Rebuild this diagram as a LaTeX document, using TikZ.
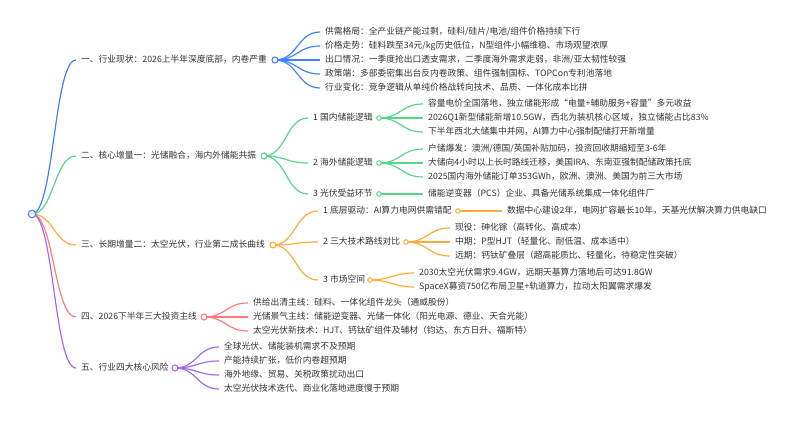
\documentclass[tikz,border=0pt]{standalone}
\usepackage{fontspec}
\setmainfont{Noto Sans CJK SC}
\usetikzlibrary{calc}

\definecolor{ink}{HTML}{333333}
\definecolor{mmblue}{HTML}{4080FF}
\definecolor{mmgreen}{HTML}{55D68A}
\definecolor{mmorange}{HTML}{FFAA3B}
\definecolor{mmred}{HTML}{FF7A7A}
\definecolor{mmpurple}{HTML}{A36CF0}

\pgfdeclarelayer{bg}
\pgfsetlayers{bg,main}

% enlace curvo entre dos nodos
\newcommand{\mmlink}[3]{%
  \path (#2) -- coordinate[pos=.5] (mid) (#3);
  \draw[link=#1] (#2) .. controls (mid |- #2) and (mid |- #3) .. (#3);}

\begin{document}
\begin{tikzpicture}[x=1pt, y=-1pt,
    txt/.style={anchor=west, inner xsep=5pt, inner ysep=0pt, text height=7pt, text depth=2pt, text=ink, font=\fontsize{8.75}{10.5}\selectfont},
    dot/.style={circle, draw=#1, fill=white, line width=1.1pt, inner sep=0pt, minimum size=6pt},
    dotsm/.style={dot=#1, line width=1pt, minimum size=4.6pt},
    link/.style={draw=#1, line width=1.2pt}]
    \useasboundingbox (0,0) rectangle (800,422);

    % Raíz
    \node[dot=mmblue, minimum size=7.5pt] (r) at (32,214) {};

    % 一、行业现状
    \node[txt] (a) at (76,60) {一、行业现状：2026上半年深度底部，内卷严重};
    \node[dot=mmblue] (ca) at (275,60) {};
    \node[txt] (a1) at (320,32) {供需格局：全产业链产能过剩，硅料/硅片/电池/组件价格持续下行};
    \node[txt] (a2) at (320,46) {价格走势：硅料跌至34元/kg历史低位，N型组件小幅维稳、市场观望浓厚};
    \node[txt] (a3) at (320,60) {出口情况：一季度抢出口透支需求，二季度海外需求走弱，非洲/亚太韧性较强};
    \node[txt] (a4) at (320,74) {政策端：多部委密集出台反内卷政策、组件强制国标、TOPCon专利池落地};
    \node[txt] (a5) at (320,88) {行业变化：竞争逻辑从单纯价格战转向技术、品质、一体化成本比拼};

    % 二、核心增量一
    \node[txt] (b) at (76,156) {二、核心增量一：光储融合，海内外储能共振};
    \node[dot=mmgreen] (cb) at (264,156) {};
    \node[txt] (b1) at (308,118) {1 国内储能逻辑};
    \node[txt] (b2) at (308,163) {2 海外储能逻辑};
    \node[txt] (b3) at (308,194) {3 光伏受益环节};
    \node[dotsm=mmgreen] (cb1) at (379,118) {};
    \node[dotsm=mmgreen] (cb2) at (379,163) {};
    \node[dotsm=mmgreen] (cb3) at (379,194) {};
    \node[txt] (b11) at (423,104) {容量电价全国落地，独立储能形成“电量+辅助服务+容量”多元收益};
    \node[txt] (b12) at (423,118) {2026Q1新型储能新增10.5GW，西北为装机核心区域，独立储能占比83\%};
    \node[txt] (b13) at (423,132) {下半年西北大储集中并网，AI算力中心强制配储打开新增量};
    \node[txt] (b21) at (423,149) {户储爆发：澳洲/德国/英国补贴加码，投资回收期缩短至3-6年};
    \node[txt] (b22) at (423,163) {大储向4小时以上长时路线迁移，美国IRA、东南亚强制配储政策托底};
    \node[txt] (b23) at (423,177) {2025国内海外储能订单353GWh，欧洲、澳洲、美国为前三大市场};
    \node[txt] (b31) at (423,194) {储能逆变器（PCS）企业、具备光储系统集成一体化组件厂};

    % 三、长期增量二
    \node[txt] (c) at (76,245) {三、长期增量二：太空光伏，行业第二成长曲线};
    \node[dot=mmorange] (cc) at (273,245) {};
    \node[txt] (c1) at (318,211) {1 底层驱动：AI算力电网供需错配};
    \node[txt] (c2) at (318,242) {2 三大技术路线对比};
    \node[txt] (c3) at (318,280) {3 市场空间};
    \node[dotsm=mmorange] (cc1) at (458,211) {};
    \node[dotsm=mmorange] (cc2) at (406,242) {};
    \node[dotsm=mmorange] (cc3) at (370,280) {};
    \node[txt] (c11) at (502,211) {数据中心建设2年，电网扩容最长10年，天基光伏解决算力供电缺口};
    \node[txt] (c21) at (450,228) {现役：砷化镓（高转化、高成本）};
    \node[txt] (c22) at (450,242) {中期：P型HJT（轻量化、耐低温、成本适中）};
    \node[txt] (c23) at (450,256) {远期：钙钛矿叠层（超高能质比、轻量化，待稳定性突破）};
    \node[txt] (c31) at (414,273) {2030太空光伏需求9.4GW，远期天基算力落地后可达91.8GW};
    \node[txt] (c32) at (414,287) {SpaceX募资750亿布局卫星+轨道算力，拉动太阳翼需求爆发};

    % 四、投资主线
    \node[txt] (d) at (76,317) {四、2026下半年三大投资主线};
    \node[dot=mmred] (cd) at (204,317) {};
    \node[txt] (d1) at (248,303) {供给出清主线：硅料、一体化组件龙头（通威股份）};
    \node[txt] (d2) at (248,317) {光储景气主线：储能逆变器、光储一体化（阳光电源、德业、天合光能）};
    \node[txt] (d3) at (248,331) {太空光伏新技术：HJT、钙钛矿组件及辅材（钧达、东方日升、福斯特）};

    % 五、核心风险
    \node[txt] (e) at (76,368) {五、行业四大核心风险};
    \node[dot=mmpurple] (ce) at (175,368) {};
    \node[txt] (e1) at (219,347) {全球光伏、储能装机需求不及预期};
    \node[txt] (e2) at (219,361) {产能持续扩张，低价内卷超预期};
    \node[txt] (e3) at (219,375) {海外地缘、贸易、关税政策扰动出口};
    \node[txt] (e4) at (219,389) {太空光伏技术迭代、商业化落地进度慢于预期};

    % Enlaces (detrás de los círculos)
    \begin{pgfonlayer}{bg}
        \mmlink{mmblue}{r.center}{a.west}
        \mmlink{mmgreen}{r.center}{b.west}
        \mmlink{mmorange}{r.center}{c.west}
        \mmlink{mmred}{r.center}{d.west}
        \mmlink{mmpurple}{r.center}{e.west}
        \foreach \k in {1,...,5} {\mmlink{mmblue}{ca.center}{a\k.west}}
        \foreach \k in {1,2,3} {\mmlink{mmgreen}{cb.center}{b\k.west}}
        \foreach \k in {1,2,3} {\mmlink{mmgreen}{cb1.center}{b1\k.west}}
        \foreach \k in {1,2,3} {\mmlink{mmgreen}{cb2.center}{b2\k.west}}
        \mmlink{mmgreen}{cb3.center}{b31.west}
        \foreach \k in {1,2,3} {\mmlink{mmorange}{cc.center}{c\k.west}}
        \mmlink{mmorange}{cc1.center}{c11.west}
        \foreach \k in {1,2,3} {\mmlink{mmorange}{cc2.center}{c2\k.west}}
        \foreach \k in {1,2} {\mmlink{mmorange}{cc3.center}{c3\k.west}}
        \foreach \k in {1,2,3} {\mmlink{mmred}{cd.center}{d\k.west}}
        \foreach \k in {1,...,4} {\mmlink{mmpurple}{ce.center}{e\k.west}}
    \end{pgfonlayer}
\end{tikzpicture}
\end{document}
